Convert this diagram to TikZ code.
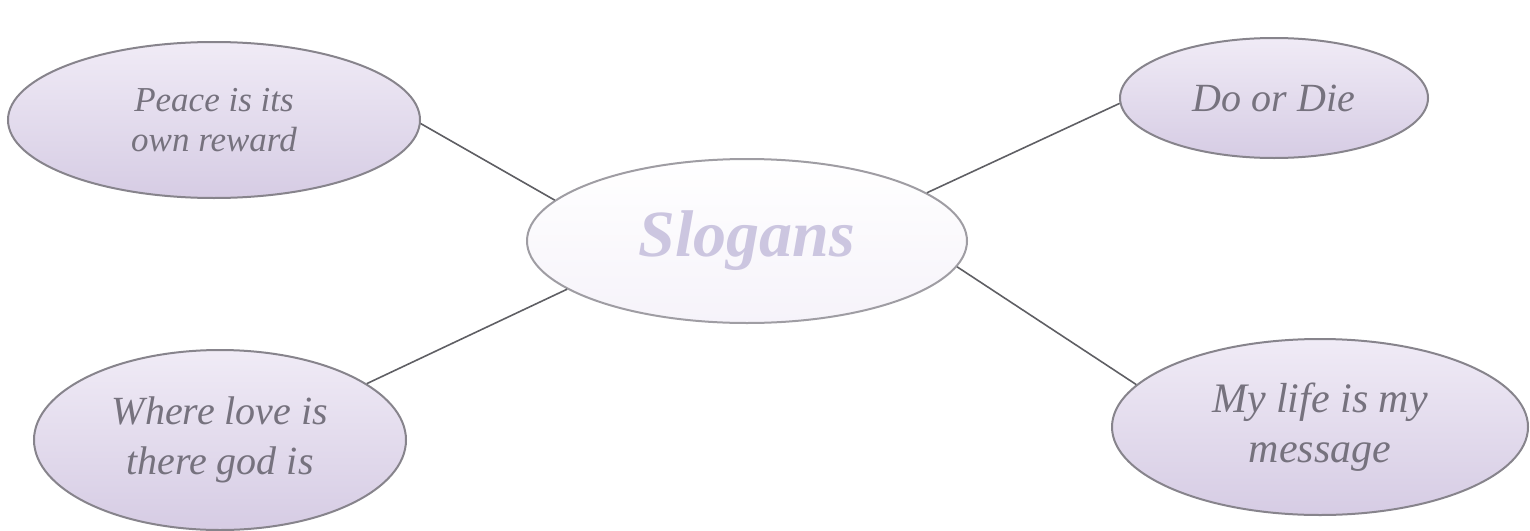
\documentclass[tikz,border=0pt]{standalone}
\usepackage{fontspec}
\setmainfont{Liberation Serif}
\usetikzlibrary{shapes.geometric}
\definecolor{lavtop}{RGB}{240,235,246}
\definecolor{lavbot}{RGB}{214,204,228}
\definecolor{rimgray}{RGB}{135,132,140}
\definecolor{txtgray}{RGB}{118,114,126}
\definecolor{hubtxt}{RGB}{204,198,224}
\definecolor{linkgray}{RGB}{95,95,100}
\begin{document}
\begin{tikzpicture}[x=1pt,y=-1pt,
  leaf/.style={ellipse, draw=rimgray, line width=2pt, top color=lavtop, bottom color=lavbot,
    inner sep=0pt, align=center, text=txtgray},
  hub/.style={ellipse, draw=rimgray!80, line width=2pt, top color=white, bottom color=lavtop!60,
    inner sep=0pt, align=center, text=hubtxt},
  link/.style={draw=linkgray, line width=1.6pt}]
\useasboundingbox (0,0) rectangle (1530,530);
\node[hub, minimum width=440pt, minimum height=164pt,
  font=\fontsize{66}{74}\selectfont\bfseries\itshape] (hub) at (747,241) {Slogans};
\node[leaf, minimum width=412pt, minimum height=156pt,
  font=\fontsize{35}{40}\selectfont\itshape] (peace) at (214,120) {Peace is its\\own reward};
\node[leaf, minimum width=308pt, minimum height=120pt,
  font=\fontsize{40}{48}\selectfont\itshape] (die) at (1274,98) {Do or Die};
\node[leaf, minimum width=372pt, minimum height=180pt,
  font=\fontsize{40}{50}\selectfont\itshape] (love) at (220,440) {Where love is\\there god is};
\node[leaf, minimum width=416pt, minimum height=176pt,
  font=\fontsize{42}{50}\selectfont\itshape] (life) at (1320,427) {My life is my\\message};
\draw[link] (peace.-1) -- (hub.168);
\draw[link] (love.21) -- (hub.195);
\draw[link] (hub.15) -- (die.182);
\draw[link] (hub.-7) -- (life.167);
\end{tikzpicture}
\end{document}
